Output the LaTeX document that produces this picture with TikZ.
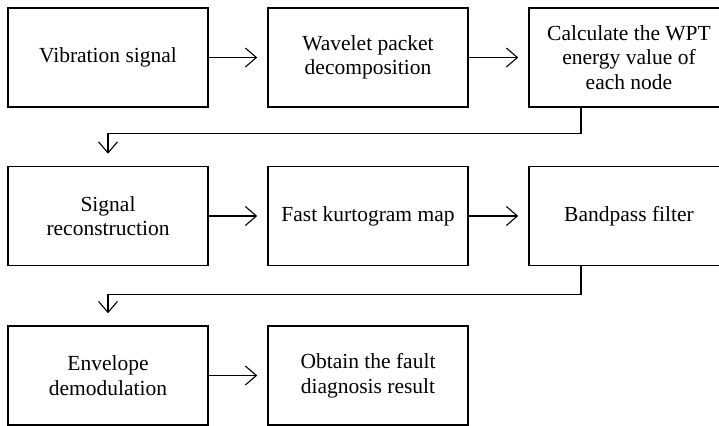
\documentclass[tikz,border=0pt]{standalone}
\usepackage{fontspec}
\setmainfont{Liberation Serif}
\usetikzlibrary{arrows.meta}
\usetikzlibrary{calc}

\begin{document}
\begin{tikzpicture}[x=1pt, y=-1pt,
    box/.style={draw, line width=1.6pt, minimum width=200pt, minimum height=99pt,
      inner sep=0pt, align=center, font=\fontsize{21.5}{24.5}\selectfont},
    flow/.style={line width=1.1pt, -{Straight Barb[length=11pt, width=19pt, line width=1.1pt]}, shorten >=10pt}]
      \useasboundingbox (0, 0) rectangle (719, 425);
      \clip (0, 0) rectangle (719, 425);

      \node[box] (1) at (108, 57.5) {Vibration signal};
      \node[box] (2) at (368, 57.5) {Wavelet packet\\decomposition};
      \node[box] (3) at (629, 57.5) {Calculate the WPT\\energy value of\\each node};
      \node[box] (4) at (108, 216) {Signal\\reconstruction};
      \node[box] (5) at (368, 216) {Fast kurtogram map};
      \node[box] (6) at (629, 216) {Bandpass filter};
      \node[box] (7) at (108, 375.5) {Envelope\\demodulation};
      \node[box] (8) at (368, 375.5) {Obtain the fault\\diagnosis result};

      \draw[flow] (1) -- (2);
      \draw[flow] (2) -- (3);
      \draw[flow] (4) -- (5);
      \draw[flow] (5) -- (6);
      \draw[flow] (7) -- (8);

      % turn-back lines between the rows
      \draw[flow, shorten >=12pt] ($(3.south)+(-48, 0)$) |- ++(0, 26) -| (4.north);
      \draw[flow, shorten >=12pt] ($(6.south)+(-48, 0)$) |- ++(0, 28) -| (7.north);
    \end{tikzpicture}
\end{document}
